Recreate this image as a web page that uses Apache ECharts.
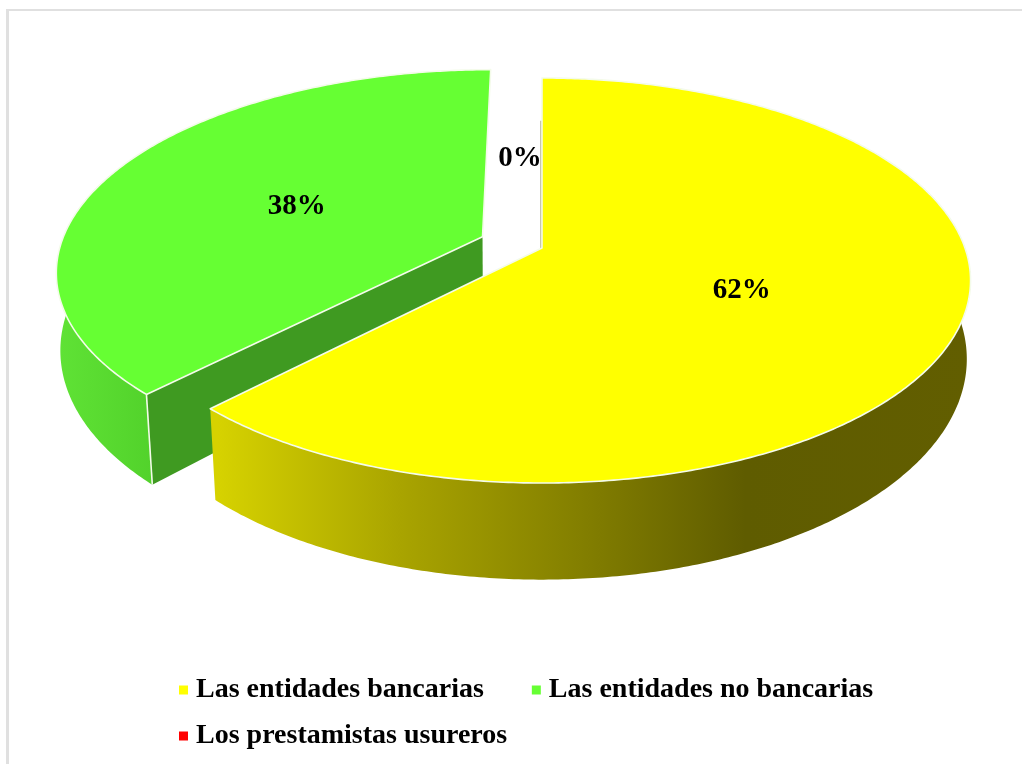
<!DOCTYPE html>
<html>
<head>
<meta charset="utf-8">
<style>html,body{margin:0;padding:0;background:#fff}#c{width:1022px;height:764px}</style>
<script src="https://cdn.jsdelivr.net/npm/echarts@6/dist/echarts.min.js"></script>
</head>
<body>
<div id="c"></div>
<script>
const categories = ['Las entidades bancarias', 'Las entidades no bancarias', 'Los prestamistas usureros'];
const shares = [62.2, 37.8, 0];
const percentLabels = ['62%', '38%', '0%'];
const colors = ['#FFFF00', '#66FF33', '#FF0000'];

// Layout of the tilted disc (a projective view of a unit circle)
const TOP = {cx: 542, a: 423, ay: 248, b: 197.3, p: 0.1605};
const BOTTOM = {cx: 542, a: 420, ay: 326, b: 215.6, p: 0.15};
const explode = [0, 0.153, 0];
const labelRadius = [0.5, 0.45, 0.43];
const labelShiftX = [-2.5, -17, -22];
const labelShiftY = [4, 1, -10];
const sideGradients = [
  [[218, '#D6D200'], [400, '#A9A400'], [600, '#7F7B00'], [745, '#5F5C00'], [970, '#625E00']],
  [[60, '#5FE235'], [153, '#52D22B']],
  [[0, '#CC0000'], [1, '#CC0000']]
];
const wallColor = '#3F9A21';
const sliverColor = '#B5B58E';
const sliverLength = 0.72;

function project(u, v, lv) {
  const s = 1 / (1 - lv.p * v);
  return [lv.cx + lv.a * u * s, lv.ay + lv.b * v * s];
}
function rim(t, off) { return [off[0] + Math.sin(t), off[1] - Math.cos(t)]; }
function arc(t0, t1, off, lv) {
  const out = [];
  const n = Math.max(2, Math.ceil(Math.abs(t1 - t0) / 0.01));
  for (let i = 0; i <= n; i++) {
    const p = rim(t0 + (t1 - t0) * i / n, off);
    out.push(project(p[0], p[1], lv));
  }
  return out;
}
function hGrad(stops) {
  const x0 = stops[0][0], x1 = stops[stops.length - 1][0];
  return {type: 'linear', x: x0, y: 0, x2: x1, y2: 0, global: true,
    colorStops: stops.map(s => ({offset: (s[0] - x0) / (x1 - x0), color: s[1]}))};
}

function renderSlice(params, api) {
  const i = params.seriesIndex;
  const total = shares.reduce((a, b) => a + b, 0);
  let before = 0;
  for (let k = 0; k < i; k++) before += shares[k];
  const value = api.value(0);
  const t0 = before / total * 2 * Math.PI;
  const t1 = (before + value) / total * 2 * Math.PI;
  const mid = (t0 + t1) / 2;
  const off = [explode[i] * Math.sin(mid), -explode[i] * Math.cos(mid)];
  const children = [];

  if (value > 0) {
    // outer side wall, only the part that faces the viewer
    const sideFrom = Math.max(t0, 1.0), sideTo = Math.min(t1, 5.2);
    const sideTop = arc(sideFrom, sideTo, off, TOP);
    const sideBot = arc(sideFrom, sideTo, off, BOTTOM);
    children.push({type: 'polygon', shape: {points: sideTop.concat(sideBot.reverse())},
      style: {fill: hGrad(sideGradients[i])}});

    // cut wall that faces the viewer
    const endTop = project(...rim(t0, off), TOP), endBot = project(...rim(t0, off), BOTTOM);
    if (t0 > 0) {
      children.push({type: 'polygon',
        shape: {points: [project(off[0], off[1], TOP), endTop, endBot, project(off[0], off[1], BOTTOM)]},
        style: {fill: wallColor}});
      children.push({type: 'line', shape: {x1: endTop[0], y1: endTop[1], x2: endBot[0], y2: endBot[1]},
        style: {stroke: '#F4FBEA', lineWidth: 1.6}});
    } else {
      const a = project(off[0], off[1], TOP);
      const e = project(off[0], off[1] - sliverLength, TOP);
      children.push({type: 'line', shape: {x1: a[0] - 1, y1: a[1], x2: e[0] - 1, y2: e[1]},
        style: {stroke: sliverColor, lineWidth: 1.5}});
    }

    // top face
    const face = arc(t0, t1, off, TOP);
    face.push(project(off[0], off[1], TOP));
    children.push({type: 'polygon', shape: {points: face},
      style: {fill: colors[i], stroke: '#F4FBEA', lineWidth: 1.6, lineJoin: 'round'}});
  }

  const lr = labelRadius[i];
  const lp = project(off[0] + lr * Math.sin(mid), off[1] - lr * Math.cos(mid), TOP);
  children.push({type: 'text', z2: 50, style: {
    text: percentLabels[i], x: lp[0] + labelShiftX[i], y: lp[1] + labelShiftY[i],
    align: 'center', verticalAlign: 'middle',
    font: 'bold 29px "Liberation Serif"', fill: '#000'
  }});
  return {type: 'group', children};
}

const legendText = {fontFamily: '"Liberation Serif"', fontWeight: 'bold', fontSize: 28, color: '#000', padding: [0, 0, 0, 3]};
const chart = echarts.init(document.getElementById('c'), null, {renderer: 'canvas'});
chart.setOption({
  animation: false,
  backgroundColor: '#fff',
  graphic: [
    {type: 'line', shape: {x1: 6, y1: 10, x2: 1022, y2: 10}, style: {stroke: '#E0E0E0', lineWidth: 2}},
    {type: 'line', shape: {x1: 7.5, y1: 9, x2: 7.5, y2: 764}, style: {stroke: '#E0E0E0', lineWidth: 3}}
  ],
  legend: [
    {left: 174, top: 671, padding: 5, icon: 'rect', itemWidth: 9, itemHeight: 9, itemGap: 48,
      selectedMode: false, data: categories.slice(0, 2), textStyle: legendText},
    {left: 174, top: 717, padding: 5, icon: 'rect', itemWidth: 9, itemHeight: 9,
      selectedMode: false, data: categories.slice(2), textStyle: legendText}
  ],
  series: categories.map((name, i) => ({
    type: 'custom', name, coordinateSystem: 'none', silent: true,
    z: 3 - i, clip: false,
    itemStyle: {color: colors[i]},
    renderItem: renderSlice,
    data: [[shares[i]]]
  }))
});
</script>
</body>
</html>
